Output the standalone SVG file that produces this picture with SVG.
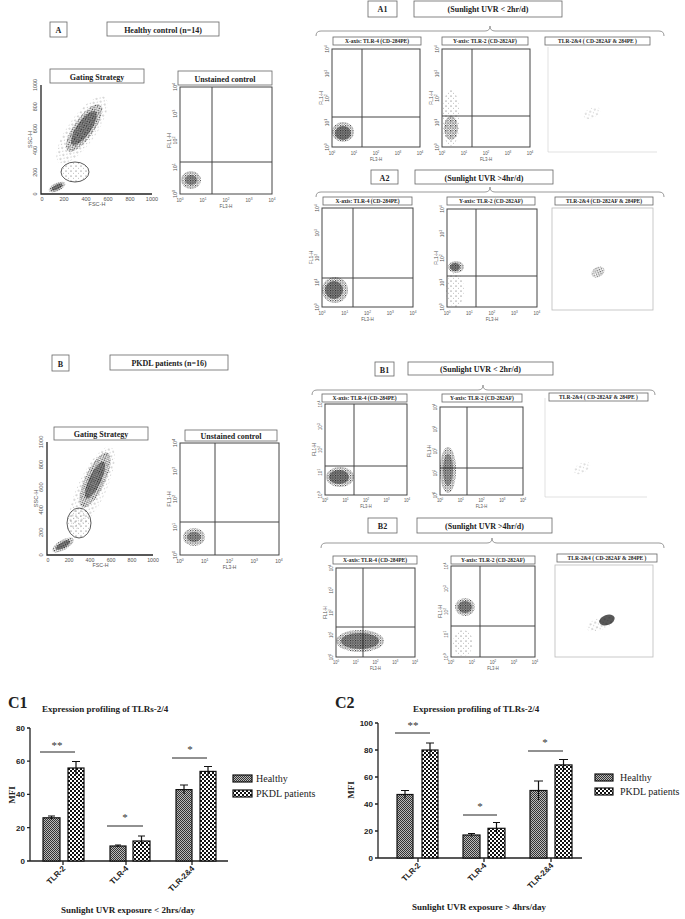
<svg xmlns="http://www.w3.org/2000/svg" xmlns:xlink="http://www.w3.org/1999/xlink" width="685" height="919" viewBox="0 0 685 919">
<style>
.bx{fill:#fff;stroke:#666;stroke-width:.8}
.lb{font-family:"Liberation Serif",serif;font-weight:bold;font-size:8px;text-anchor:middle;fill:#222}
.pl{font-family:"Liberation Serif",serif;font-weight:bold;font-size:5.5px;text-anchor:middle;fill:#222}
.fr{fill:#fff;stroke:#444;stroke-width:1}
.q{stroke:#444;stroke-width:1}
.tk{font-family:"Liberation Sans",sans-serif;font-size:5px;fill:#555;text-anchor:middle}
.br{fill:none;stroke:#999;stroke-width:1}
.ax{stroke:#222;stroke-width:1.3;fill:none}
.ct{font-family:"Liberation Sans",sans-serif;font-weight:bold;font-size:8px;fill:#222}
.st{font-family:"Liberation Serif",serif;font-weight:bold;font-size:9px;fill:#222}
.lg{font-family:"Liberation Serif",serif;font-size:10px;fill:#222}
.h{fill:url(#ph);stroke:#111;stroke-width:1.2}
.p{fill:url(#pp);stroke:#111;stroke-width:1.2}
.eb{stroke:#111;stroke-width:1.2;fill:none}
.sig{stroke:#222;stroke-width:1}
.sg{font-family:"Liberation Serif",serif;font-size:11px;fill:#333;text-anchor:middle}
</style>
<defs>
<pattern id="ph" width="2" height="2" patternUnits="userSpaceOnUse"><rect width="2" height="2" fill="#bbb"/><rect width="1" height="1" fill="#333"/><rect x="1" y="1" width="1" height="1" fill="#333"/></pattern>
<pattern id="pp" width="4" height="4" patternUnits="userSpaceOnUse"><rect width="4" height="4" fill="#fff"/><rect width="2" height="2" fill="#111"/><rect x="2" y="2" width="2" height="2" fill="#111"/></pattern>
<pattern id="pd" width="2.5" height="2.5" patternUnits="userSpaceOnUse"><circle cx=".6" cy=".6" r=".6" fill="#111"/><circle cx="1.9" cy="1.7" r=".5" fill="#333"/></pattern>
<pattern id="ps" width="5" height="5" patternUnits="userSpaceOnUse"><circle cx="1" cy="1" r=".5" fill="#333"/><circle cx="3.5" cy="3.2" r=".4" fill="#555"/></pattern>
<g id="xt">
<text class="tk" x="0" y="0">10<tspan font-size="3.5" dy="-2">0</tspan></text>
<text class="tk" x="25" y="0">10<tspan font-size="3.5" dy="-2">1</tspan></text>
<text class="tk" x="50" y="0">10<tspan font-size="3.5" dy="-2">2</tspan></text>
<text class="tk" x="75" y="0">10<tspan font-size="3.5" dy="-2">3</tspan></text>
<text class="tk" x="100" y="0">10<tspan font-size="3.5" dy="-2">4</tspan></text>
<text class="tk" x="50" y="6">FL3-H</text>
</g>
<g id="yt">
<text class="tk" transform="translate(-3,100) rotate(-90)">10<tspan font-size="3.5" dy="-2">0</tspan></text>
<text class="tk" transform="translate(-3,75) rotate(-90)">10<tspan font-size="3.5" dy="-2">1</tspan></text>
<text class="tk" transform="translate(-3,50) rotate(-90)">10<tspan font-size="3.5" dy="-2">2</tspan></text>
<text class="tk" transform="translate(-3,25) rotate(-90)">10<tspan font-size="3.5" dy="-2">3</tspan></text>
<text class="tk" transform="translate(-3,0) rotate(-90)">10<tspan font-size="3.5" dy="-2">4</tspan></text>
<text class="tk" transform="translate(-9,50) rotate(-90)">FL1-H</text>
</g>
<g id="gx">
<text class="tk" x="0" y="0" font-size="4">0</text><text class="tk" x="20" y="0" font-size="4">200</text><text class="tk" x="40" y="0" font-size="4">400</text><text class="tk" x="60" y="0" font-size="4">600</text><text class="tk" x="80" y="0" font-size="4">800</text><text class="tk" x="100" y="0" font-size="4">1000</text>
<text class="tk" x="50" y="5" font-size="4">FSC-H</text>
</g>
<g id="gy">
<text class="tk" font-size="4" transform="translate(-3,100) rotate(-90)">0</text><text class="tk" font-size="4" transform="translate(-3,80) rotate(-90)">200</text><text class="tk" font-size="4" transform="translate(-3,60) rotate(-90)">400</text><text class="tk" font-size="4" transform="translate(-3,40) rotate(-90)">600</text><text class="tk" font-size="4" transform="translate(-3,20) rotate(-90)">800</text><text class="tk" font-size="4" transform="translate(-3,0) rotate(-90)">1000</text>
<text class="tk" font-size="4" transform="translate(-8,50) rotate(-90)">SSC-H</text>
</g>
</defs>
<rect width="685" height="919" fill="#fff"/>

<!-- Panel A -->
<g id="A-head">
<rect class="bx" x="50" y="22" width="17" height="15"/><text class="lb" x="58.5" y="33">A</text>
<rect class="bx" x="107" y="22" width="112" height="14"/><text class="lb" x="163" y="32.5">Healthy control (n=14)</text>
</g>
<g id="A-gating">
<rect class="bx" x="50" y="69" width="94" height="14"/><text class="lb" x="97" y="79.5">Gating Strategy</text>
<path class="ax" d="M41,85 V194 H152" stroke-width=".8"/>
<use href="#gx" transform="translate(42,201) scale(1.1,1)"/>
<use href="#gy" transform="translate(40,85) scale(1,1.09)"/>
<ellipse cx="82" cy="130" rx="14" ry="40" transform="rotate(35 82 130)" fill="url(#ps)"/>
<ellipse cx="84" cy="128" rx="10" ry="28" transform="rotate(35 84 128)" fill="url(#pd)"/>
<ellipse cx="84" cy="128" rx="7" ry="20" transform="rotate(35 84 128)" fill="#111" opacity=".45"/>
<ellipse cx="57" cy="187" rx="9" ry="4" transform="rotate(-25 57 187)" fill="url(#pd)"/>
<ellipse cx="57" cy="187" rx="6" ry="2.5" transform="rotate(-25 57 187)" fill="#111" opacity=".5"/>
<ellipse cx="75" cy="172" rx="14" ry="10" fill="url(#ps)" stroke="#333" stroke-width=".8"/>
</g>
<g id="A-unstained">
<rect class="bx" x="178" y="71" width="94" height="14"/><text class="lb" x="225" y="81.5">Unstained control</text>
<rect class="fr" x="180" y="87" width="92" height="107"/>
<line class="q" x1="212" y1="87" x2="212" y2="194"/><line class="q" x1="180" y1="162" x2="272" y2="162"/>
<ellipse cx="191" cy="180" rx="10" ry="9" fill="url(#pd)"/><ellipse cx="191" cy="180" rx="6" ry="5" fill="#111" opacity=".4"/>
<use href="#xt" transform="translate(180,202) scale(.92,1)"/><use href="#yt" transform="translate(180,87) scale(1,1.07)"/>
</g>

<!-- A1 -->
<g id="A1-head">
<rect class="bx" x="368" y="1" width="29" height="16"/><text class="lb" x="382.5" y="12">A1</text>
<rect class="bx" x="414" y="1" width="148" height="16"/><text class="lb" x="488" y="12">(Sunlight UVR &lt; 2hr/d)</text>
<path class="br" d="M316,36 Q316,31 321,31 H485 Q490,31 490,26 Q490,31 495,31 H659 Q664,31 664,36"/>
</g>
<g id="A1-x">
<rect class="bx" x="333" y="37" width="88" height="8"/><text class="pl" x="377" y="43">X-axis: TLR-4 (CD-284PE)</text>
<rect class="fr" x="332" y="49" width="88" height="98"/>
<line class="q" x1="362" y1="49" x2="362" y2="147"/><line class="q" x1="332" y1="117" x2="420" y2="117"/>
<ellipse cx="343" cy="132" rx="11" ry="10" fill="url(#pd)"/><ellipse cx="343" cy="133" rx="8" ry="7" fill="#111" opacity=".5"/>
<use href="#xt" transform="translate(332,155) scale(.88,1)"/><use href="#yt" transform="translate(332,49) scale(1,.98)"/>
</g>
<g id="A1-y">
<rect class="bx" x="442" y="37" width="86" height="8"/><text class="pl" x="485" y="43">Y-axis: TLR-2 (CD-282AF)</text>
<rect class="fr" x="442" y="49" width="88" height="98"/>
<line class="q" x1="472" y1="49" x2="472" y2="147"/><line class="q" x1="442" y1="116" x2="530" y2="116"/>
<ellipse cx="451" cy="118" rx="9" ry="28" fill="url(#ps)"/><ellipse cx="451" cy="128" rx="7" ry="12" fill="url(#pd)"/>
<use href="#xt" transform="translate(442,155) scale(.88,1)"/><use href="#yt" transform="translate(442,49) scale(1,.98)"/>
</g>
<g id="A1-xy">
<rect class="bx" x="545" y="37" width="105" height="8"/><text class="pl" x="597.5" y="43">TLR-2&amp;4 ( CD-282AF &amp; 284PE )</text>
<path d="M548,47 V152 H657" fill="none" stroke="#ccc" stroke-width=".6"/>
<ellipse cx="592" cy="113" rx="9" ry="5" transform="rotate(-25 592 113)" fill="url(#ps)" opacity=".8"/>
</g>

<!-- A2 -->
<g id="A2-head">
<rect class="bx" x="371" y="170" width="27" height="14"/><text class="lb" x="384.5" y="180.5">A2</text>
<rect class="bx" x="415" y="170" width="138" height="14"/><text class="lb" x="484" y="180.5">(Sunlight UVR &gt;4hr/d)</text>
<path class="br" d="M316,197 Q316,192 321,192 H485 Q490,192 490,187 Q490,192 495,192 H659 Q664,192 664,197"/>
</g>
<g id="A2-x">
<rect class="bx" x="323" y="197" width="89" height="8"/><text class="pl" x="367.5" y="203">X-axis: TLR-4 (CD-284PE)</text>
<rect class="fr" x="322" y="208" width="91" height="99"/>
<line class="q" x1="353" y1="208" x2="353" y2="307"/><line class="q" x1="322" y1="278" x2="413" y2="278"/>
<ellipse cx="335" cy="290" rx="13" ry="13" fill="url(#pd)"/><ellipse cx="334" cy="290" rx="9" ry="9" fill="#111" opacity=".5"/>
<use href="#xt" transform="translate(322,315) scale(.91,1)"/><use href="#yt" transform="translate(322,208) scale(1,.99)"/>
</g>
<g id="A2-y">
<rect class="bx" x="447" y="197" width="88" height="8"/><text class="pl" x="491" y="203">Y-axis: TLR-2 (CD-282AF)</text>
<rect class="fr" x="447" y="209" width="90" height="98"/>
<line class="q" x1="476" y1="209" x2="476" y2="307"/><line class="q" x1="447" y1="276" x2="537" y2="276"/>
<ellipse cx="455" cy="290" rx="9" ry="17" fill="url(#ps)"/><ellipse cx="456" cy="267" rx="8" ry="6" fill="url(#pd)"/><ellipse cx="455" cy="267" rx="5" ry="4" fill="#111" opacity=".5"/>
<use href="#xt" transform="translate(447,315) scale(.9,1)"/><use href="#yt" transform="translate(447,209) scale(1,.98)"/>
</g>
<g id="A2-xy">
<rect class="bx" x="555" y="197" width="98" height="8"/><text class="pl" x="604" y="203">TLR-2&amp;4 (CD-282AF &amp; 284PE)</text>
<rect x="552" y="208" width="101" height="102" fill="#fff" stroke="#bbb" stroke-width=".8"/>
<ellipse cx="598" cy="272" rx="7" ry="5" transform="rotate(-30 598 272)" fill="url(#pd)" opacity=".8"/>
</g>

<!-- Panel B -->
<g id="B-head">
<rect class="bx" x="52" y="355" width="17" height="16"/><text class="lb" x="60.5" y="366.5">B</text>
<rect class="bx" x="110" y="355" width="118" height="15"/><text class="lb" x="169" y="366">PKDL patients (n=16)</text>
</g>
<g id="B-gating">
<rect class="bx" x="54" y="427" width="94" height="13"/><text class="lb" x="101" y="437">Gating Strategy</text>
<path class="ax" d="M47,442 V555 H153" stroke-width=".8"/>
<use href="#gx" transform="translate(48,562) scale(1.05,1)"/>
<use href="#gy" transform="translate(46,442) scale(1,1.13)"/>
<ellipse cx="92" cy="488" rx="14" ry="45" transform="rotate(25 92 488)" fill="url(#ps)"/>
<ellipse cx="95" cy="480" rx="10" ry="30" transform="rotate(25 95 480)" fill="url(#pd)"/>
<ellipse cx="95" cy="480" rx="6" ry="20" transform="rotate(25 95 480)" fill="#111" opacity=".45"/>
<ellipse cx="63" cy="545" rx="12" ry="5" transform="rotate(-30 63 545)" fill="url(#pd)"/>
<ellipse cx="63" cy="545" rx="8" ry="3" transform="rotate(-30 63 545)" fill="#111" opacity=".5"/>
<ellipse cx="79" cy="523" rx="12" ry="15" fill="url(#ps)" stroke="#333" stroke-width=".8"/>
</g>
<g id="B-unstained">
<rect class="bx" x="185" y="430" width="92" height="11"/><text class="lb" x="231" y="439">Unstained control</text>
<rect class="fr" x="180" y="443" width="99" height="112"/>
<line class="q" x1="215" y1="443" x2="215" y2="555"/><line class="q" x1="180" y1="522" x2="279" y2="522"/>
<ellipse cx="194" cy="537" rx="11" ry="9" fill="url(#pd)"/><ellipse cx="194" cy="537" rx="7" ry="5" fill="#111" opacity=".4"/>
<use href="#xt" transform="translate(180,563) scale(.99,1)"/><use href="#yt" transform="translate(180,443) scale(1,1.12)"/>
</g>

<!-- B1 -->
<g id="B1-head">
<rect class="bx" x="375" y="362" width="19" height="14"/><text class="lb" x="384.5" y="372.5">B1</text>
<rect class="bx" x="408" y="362" width="145" height="13"/><text class="lb" x="480.5" y="372">(Sunlight UVR &lt; 2hr/d)</text>
<path class="br" d="M312,395 Q312,390 317,390 H478 Q483,390 483,385 Q483,390 488,390 H650 Q655,390 655,395"/>
</g>
<g id="B1-x">
<rect class="bx" x="322" y="394" width="85" height="8"/><text class="pl" x="364.5" y="400">X-axis: TLR-4 (CD-284PE)</text>
<rect class="fr" x="325" y="404" width="82" height="91"/>
<line class="q" x1="354" y1="404" x2="354" y2="495"/><line class="q" x1="325" y1="466" x2="407" y2="466"/>
<ellipse cx="340" cy="477" rx="14" ry="10" fill="url(#pd)"/><ellipse cx="339" cy="477" rx="10" ry="7" fill="#111" opacity=".5"/>
<use href="#xt" transform="translate(325,502) scale(.82,1)"/><use href="#yt" transform="translate(325,404) scale(1,.91)"/>
</g>
<g id="B1-y">
<rect class="bx" x="442" y="394" width="80" height="8"/><text class="pl" x="482" y="400">Y-axis: TLR-2 (CD-282AF)</text>
<rect class="fr" x="440" y="407" width="83" height="88"/>
<line class="q" x1="467" y1="407" x2="467" y2="495"/><line class="q" x1="440" y1="468" x2="523" y2="468"/>
<ellipse cx="448" cy="470" rx="8" ry="23" fill="url(#pd)"/><ellipse cx="448" cy="470" rx="5" ry="16" fill="#111" opacity=".35"/>
<use href="#xt" transform="translate(440,502) scale(.83,1)"/><use href="#yt" transform="translate(440,407) scale(1,.88)"/>
</g>
<g id="B1-xy">
<rect class="bx" x="549" y="393" width="99" height="8"/><text class="pl" x="598.5" y="399">TLR-2&amp;4 ( CD-282AF &amp; 284PE )</text>
<path d="M545,398 V497 H647" fill="none" stroke="#ccc" stroke-width=".6"/>
<ellipse cx="582" cy="468" rx="9" ry="5" transform="rotate(-30 582 468)" fill="url(#ps)" opacity=".8"/>
</g>

<!-- B2 -->
<g id="B2-head">
<rect class="bx" x="368" y="518" width="29" height="15"/><text class="lb" x="382.5" y="529">B2</text>
<rect class="bx" x="417" y="518" width="135" height="15"/><text class="lb" x="484.5" y="529">(Sunlight UVR &gt;4hr/d)</text>
<path class="br" d="M321,548 Q321,543 326,543 H487 Q492,543 492,538 Q492,543 497,543 H659 Q664,543 664,548"/>
</g>
<g id="B2-x">
<rect class="bx" x="333" y="556" width="84" height="8"/><text class="pl" x="375" y="562">X-axis: TLR-4 (CD-284PE)</text>
<rect class="fr" x="336" y="568" width="79" height="89"/>
<line class="q" x1="363" y1="568" x2="363" y2="657"/><line class="q" x1="336" y1="627" x2="415" y2="627"/>
<ellipse cx="360" cy="641" rx="24" ry="11" fill="url(#pd)"/><ellipse cx="360" cy="641" rx="19" ry="8" fill="#111" opacity=".45"/>
<use href="#xt" transform="translate(336,664) scale(.79,1)"/><use href="#yt" transform="translate(336,568) scale(1,.89)"/>
</g>
<g id="B2-y">
<rect class="bx" x="451" y="556" width="84" height="8"/><text class="pl" x="493" y="562">Y-axis: TLR-2 (CD-282AF)</text>
<rect class="fr" x="451" y="566" width="84" height="91"/>
<line class="q" x1="480" y1="566" x2="480" y2="657"/><line class="q" x1="451" y1="626" x2="535" y2="626"/>
<ellipse cx="463" cy="643" rx="10" ry="13" fill="url(#ps)"/><ellipse cx="465" cy="607" rx="10" ry="9" fill="url(#pd)"/><ellipse cx="465" cy="607" rx="7" ry="6" fill="#111" opacity=".45"/>
<use href="#xt" transform="translate(451,664) scale(.84,1)"/><use href="#yt" transform="translate(451,566) scale(1,.91)"/>
</g>
<g id="B2-xy">
<rect class="bx" x="557" y="554" width="100" height="8"/><text class="pl" x="607" y="560">TLR-2&amp;4 ( CD-282AF &amp; 284PE )</text>
<rect x="555" y="565" width="98" height="92" fill="#fff" stroke="#bbb" stroke-width=".8"/>
<ellipse cx="600" cy="624" rx="14" ry="6" transform="rotate(-20 600 624)" fill="url(#ps)"/>
<ellipse cx="607" cy="620" rx="8" ry="5" transform="rotate(-20 607 620)" fill="#111" opacity=".7"/>
</g>

<!-- C1 -->
<g id="C1">
<text x="8" y="708" font-family="Liberation Serif,serif" font-weight="bold" font-size="16" fill="#222">C1</text>
<text class="st" x="42" y="712" font-size="9.5">Expression profiling of TLRs-2/4</text>
<path class="ax" d="M30,728 V861 H228 M27,728 H30 M27,761.2 H30 M27,794.4 H30 M27,827.6 H30 M27,861 H30 M63,861 V865 M126,861 V865 M192,861 V865"/>
<text class="ct" x="25" y="731" text-anchor="end">80</text><text class="ct" x="25" y="764" text-anchor="end">60</text><text class="ct" x="25" y="797" text-anchor="end">40</text><text class="ct" x="25" y="831" text-anchor="end">20</text><text class="ct" x="25" y="864" text-anchor="end">0</text>
<text class="st" transform="translate(15,795) rotate(-90)" text-anchor="middle">MFI</text>
<rect class="h" x="43" y="817.8" width="17" height="43.2"/><rect class="p" x="68" y="768" width="16" height="93"/>
<rect class="h" x="110" y="846" width="16" height="15"/><rect class="p" x="133" y="841" width="17" height="20"/>
<rect class="h" x="176" y="789.6" width="16" height="71.4"/><rect class="p" x="200" y="771.4" width="16" height="89.6"/>
<path class="eb" d="M51.5,816 V819.5 M48,816 H55 M76,761.5 V774.5 M72,761.5 H80 M118,845 V847 M115,845 H121 M141.5,836 V846 M138,836 H145 M184,785 V794 M180,785 H188 M208,766.5 V776 M204,766.5 H212"/>
<line class="sig" x1="40" y1="752" x2="75" y2="752"/><text class="sg" x="57" y="749">**</text>
<line class="sig" x1="107" y1="826" x2="143" y2="826"/><text class="sg" x="125" y="821">*</text>
<line class="sig" x1="172" y1="758" x2="207" y2="758"/><text class="sg" x="190" y="753">*</text>
<text class="ct" transform="translate(66,869) rotate(-45)" text-anchor="end">TLR-2</text>
<text class="ct" transform="translate(129,869) rotate(-45)" text-anchor="end">TLR-4</text>
<text class="ct" transform="translate(195,869) rotate(-45)" text-anchor="end">TLR-2&amp;4</text>
<rect class="h" x="233" y="775" width="19" height="7" stroke-width="1"/><rect class="p" x="233" y="790" width="19" height="7" stroke-width="1"/>
<text class="lg" x="256" y="782">Healthy</text><text class="lg" x="256" y="797">PKDL patients</text>
<text class="st" x="128" y="913" text-anchor="middle" font-size="9.5">Sunlight UVR exposure &lt; 2hrs/day</text>
</g>

<!-- C2 -->
<g id="C2">
<text x="335" y="708" font-family="Liberation Serif,serif" font-weight="bold" font-size="16" fill="#222">C2</text>
<text class="st" x="413" y="712" font-size="9.5">Expression profiling of TLRs-2/4</text>
<path class="ax" d="M378,723 V858 H582 M375,723 H378 M375,750 H378 M375,777 H378 M375,804 H378 M375,831 H378 M375,858 H378 M418,858 V862 M484,858 V862 M551,858 V862"/>
<text class="ct" x="373" y="726" text-anchor="end">100</text><text class="ct" x="373" y="753" text-anchor="end">80</text><text class="ct" x="373" y="780" text-anchor="end">60</text><text class="ct" x="373" y="807" text-anchor="end">40</text><text class="ct" x="373" y="834" text-anchor="end">20</text><text class="ct" x="373" y="861" text-anchor="end">0</text>
<text class="st" transform="translate(354,790) rotate(-90)" text-anchor="middle">MFI</text>
<rect class="h" x="397" y="794.5" width="16" height="63.5"/><rect class="p" x="422" y="750" width="16" height="108"/>
<rect class="h" x="463" y="835" width="17" height="23"/><rect class="p" x="488" y="828.3" width="17" height="29.7"/>
<rect class="h" x="530" y="790.5" width="17" height="67.5"/><rect class="p" x="555" y="764.9" width="17" height="93.1"/>
<path class="eb" d="M405,790.5 V798.5 M401,790.5 H409 M430,743 V757 M426,743 H434 M471.5,833.5 V836.5 M468,833.5 H475 M496.5,822.5 V834 M493,822.5 H500 M538.5,781 V800 M534,781 H543 M563.5,759.5 V770.5 M559,759.5 H568"/>
<line class="sig" x1="395" y1="733" x2="430" y2="733"/><text class="sg" x="413" y="729">**</text>
<line class="sig" x1="463" y1="815" x2="497" y2="815"/><text class="sg" x="480" y="810">*</text>
<line class="sig" x1="528" y1="751" x2="563" y2="751"/><text class="sg" x="545" y="746">*</text>
<text class="ct" transform="translate(421,866) rotate(-45)" text-anchor="end">TLR-2</text>
<text class="ct" transform="translate(487,866) rotate(-45)" text-anchor="end">TLR-4</text>
<text class="ct" transform="translate(554,866) rotate(-45)" text-anchor="end">TLR-2&amp;4</text>
<rect class="h" x="595" y="774" width="18" height="7" stroke-width="1"/><rect class="p" x="595" y="788" width="18" height="7" stroke-width="1"/>
<text class="lg" x="620" y="781">Healthy</text><text class="lg" x="620" y="795">PKDL patients</text>
<text class="st" x="479" y="910" text-anchor="middle" font-size="9.5">Sunlight UVR exposure &gt; 4hrs/day</text>
</g>
</svg>
